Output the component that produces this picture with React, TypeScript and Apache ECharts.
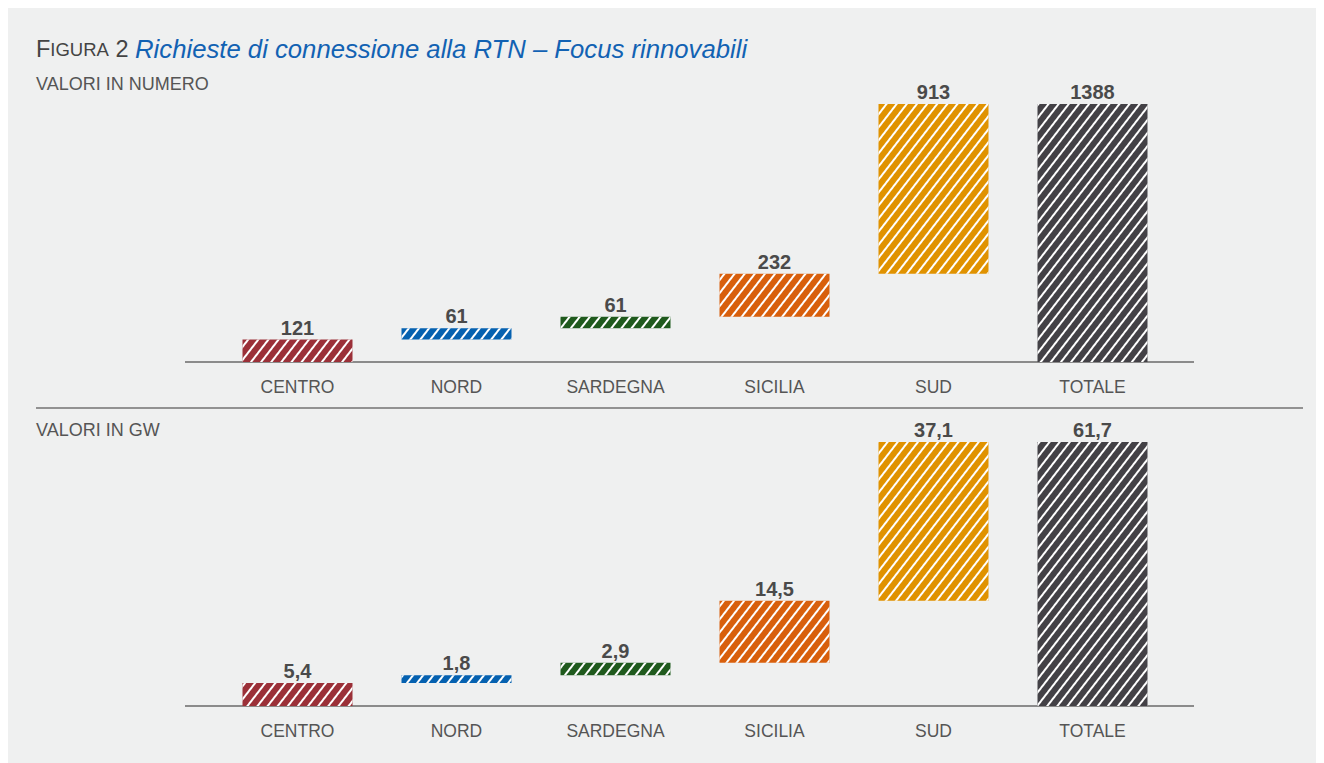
import React, { useEffect, useRef } from "react";
import * as echarts from "echarts";

const categories = ["CENTRO", "NORD", "SARDEGNA", "SICILIA", "SUD", "TOTALE"];
const countValues = [121, 61, 61, 232, 913, 1388];
const gwValues = [5.4, 1.8, 2.9, 14.5, 37.1, 61.7];
const barColors = ["#9b3038", "#0561b0", "#1f5a1d", "#d85f0c", "#e09200", "#434146"];

const FONT = "'Liberation Sans', Arial, sans-serif";

function bases(vals: number[]): number[] {
  const out: number[] = [];
  let acc = 0;
  vals.forEach((v, i) => {
    if (i === vals.length - 1) out.push(0);
    else {
      out.push(acc);
      acc += v;
    }
  });
  return out;
}

const decal = {
  symbol: "rect",
  symbolSize: 1,
  dashArrayX: [1, 0],
  dashArrayY: [2, 6],
  rotation: -Math.PI * 0.29,
  color: "rgba(255,255,255,1)",
};

function makeSeries(vals: number[], idx: number, fmt: (v: number) => string) {
  return [
    {
      type: "bar",
      xAxisIndex: idx,
      yAxisIndex: idx,
      stack: "s" + idx,
      barWidth: 110,
      silent: true,
      itemStyle: { color: "transparent" },
      data: bases(vals),
    },
    {
      type: "bar",
      xAxisIndex: idx,
      yAxisIndex: idx,
      stack: "s" + idx,
      barWidth: 110,
      data: vals.map((v, i) => ({
        value: v,
        itemStyle: { color: barColors[i], decal },
      })),
      label: {
        show: true,
        position: "top",
        distance: 2,
        formatter: (p: any) => fmt(p.value),
        fontFamily: FONT,
        fontSize: 20,
        fontWeight: "bold",
        color: "#4a4a4a",
      },
    },
  ];
}

export default function App() {
  const ref = useRef<HTMLDivElement>(null);
  useEffect(() => {
    if (!ref.current) return;
    const chart = echarts.init(ref.current, null, { renderer: "svg" });
    const axisCommon = {
      type: "category",
      data: categories,
      axisLine: { show: false },
      axisTick: { show: false },
      axisLabel: { margin: 16, fontSize: 17.5, color: "#555", fontFamily: FONT },
    };
    chart.setOption({
      animation: false,
      backgroundColor: "#eff0f0",
      grid: [
        { left: 210, width: 954, top: 96, height: 258 },
        { left: 210, width: 954, top: 434, height: 264 },
      ],
      xAxis: [
        { ...axisCommon, gridIndex: 0 },
        { ...axisCommon, gridIndex: 1 },
      ],
      yAxis: [
        { type: "value", gridIndex: 0, min: 0, max: countValues[countValues.length - 1], show: false },
        { type: "value", gridIndex: 1, min: 0, max: gwValues[gwValues.length - 1], show: false },
      ],
      series: [
        ...makeSeries(countValues, 0, (v) => String(v)),
        ...makeSeries(gwValues, 1, (v) => v.toFixed(1).replace(".", ",")),
      ],
      graphic: [
        {
          type: "text",
          x: 28,
          y: 41,
          style: {
            text: "{f|F}{s|IGURA}{f| 2 }{t|Richieste di connessione alla RTN – Focus rinnovabili}",
            verticalAlign: "middle",
            rich: {
              f: { fontSize: 23.5, fontFamily: FONT, fill: "#444" },
              s: { fontSize: 18.5, fontFamily: FONT, fill: "#444" },
              t: { fontSize: 25.7, fontFamily: FONT, fontStyle: "italic", fill: "#1262b3" },
            },
          },
        },
        {
          type: "text",
          x: 28,
          y: 76,
          style: { text: "VALORI IN NUMERO", fontSize: 18, fontFamily: FONT, fill: "#555", verticalAlign: "middle" },
        },
        {
          type: "text",
          x: 28,
          y: 422,
          style: { text: "VALORI IN GW", fontSize: 18, fontFamily: FONT, fill: "#555", verticalAlign: "middle" },
        },
        {
          type: "line",
          shape: { x1: 28, y1: 400, x2: 1295, y2: 400 },
          style: { stroke: "#737373", lineWidth: 1.5 },
        },
        {
          type: "line",
          shape: { x1: 177, y1: 354, x2: 1186, y2: 354 },
          style: { stroke: "#6a6a6a", lineWidth: 1.5 },
        },
        {
          type: "line",
          shape: { x1: 177, y1: 698, x2: 1186, y2: 698 },
          style: { stroke: "#6a6a6a", lineWidth: 1.5 },
        },
      ],
    });
    return () => chart.dispose();
  }, []);
  return <div ref={ref} style={{ width: 1316, height: 755 }} />;
}
